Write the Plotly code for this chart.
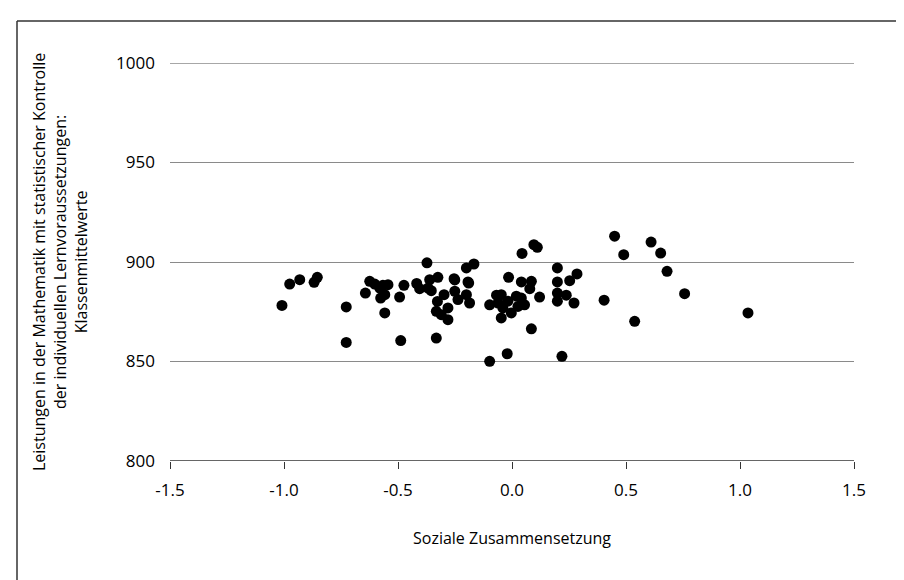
import plotly.graph_objects as go

# Soziale Zusammensetzung (x) and class mean math performance (y)
x_vals = [
    -1.009, -0.975, -0.931, -0.868, -0.854, -0.727, -0.727,
    -0.643, -0.624, -0.602, -0.580, -0.566, -0.544, -0.576, -0.558, -0.558,
    -0.493, -0.474, -0.488, -0.418, -0.405,
    -0.373, -0.361, -0.325, -0.368, -0.354, -0.254, -0.193, -0.298, -0.251,
    -0.237, -0.200, -0.186, -0.327, -0.332, -0.310, -0.281, -0.281, -0.332,
    -0.200, -0.167, -0.190, -0.251,
    -0.098, -0.068, -0.047, -0.098, -0.061, -0.040, -0.047, -0.015, -0.021,
    -0.018, 0.019, 0.041, 0.055, -0.003, 0.026, 0.044, 0.096, 0.111,
    0.041, 0.085, 0.078, 0.121, 0.085,
    0.199, 0.199, 0.253, 0.285, 0.199, 0.199, 0.238, 0.272, 0.219,
    0.404, 0.450, 0.490, 0.610, 0.652, 0.680, 0.757, 0.538, 1.035,
]
y_vals = [
    878.2, 888.9, 891.1, 889.8, 892.3, 877.4, 859.6,
    884.4, 890.3, 888.9, 886.9, 888.3, 888.6, 881.9, 883.6, 874.4,
    882.4, 888.3, 860.5, 889.2, 886.6,
    899.6, 891.1, 892.3, 886.9, 885.6, 891.6, 890.0, 883.6, 885.3,
    881.1, 883.6, 879.4, 880.2, 875.2, 873.5, 876.9, 871.0, 861.8,
    897.0, 899.0, 889.4, 891.0,
    850.1, 883.3, 883.6, 878.5, 879.4, 876.9, 871.9, 892.3, 853.9,
    880.3, 882.8, 881.9, 878.5, 874.4, 877.7, 904.3, 908.7, 907.4,
    890.0, 890.3, 886.6, 882.4, 866.4,
    897.0, 890.0, 890.6, 894.0, 884.4, 880.3, 883.3, 879.4, 852.6,
    880.8, 913.0, 903.7, 910.0, 904.5, 895.3, 884.1, 870.2, 874.4,
]

x_ticks = [-1.5, -1.0, -0.5, 0.0, 0.5, 1.0, 1.5]
x_tick_labels = ["-1.5", "-1.0", "-0.5", "0.0", "0.5", "1.0", "1.5"]
y_ticks = [800, 850, 900, 950, 1000]
y_tick_labels = ["800", "850", "900", "950", "1000"]

x_title = "Soziale Zusammensetzung"
y_title = ("Leistungen in der Mathematik mit statistischer Kontrolle<br>"
           "der individuellen Lernvoraussetzungen:<br>Klassenmittelwerte")

tick_font = dict(family="Open Sans, sans-serif", size=17, color="#000000")
title_font = dict(family="Open Sans, sans-serif", size=16, color="#000000")

fig = go.Figure()
fig.add_trace(go.Scatter(
    x=x_vals, y=y_vals, mode="markers",
    marker=dict(color="#000000", size=11, line=dict(width=0)),
    hoverinfo="x+y", showlegend=False,
))

L, R, T, B = 162, 58, 55, 127
W, H = 904, 580
pw, ph = W - L - R, H - T - B

fig.update_layout(
    width=W, height=H,
    margin=dict(l=L, r=R, t=T, b=B, pad=0),
    paper_bgcolor="#ffffff", plot_bgcolor="#ffffff",
    xaxis=dict(
        range=[-1.5, 1.5], tickvals=x_ticks, ticktext=x_tick_labels,
        showgrid=False, zeroline=False, showline=False,
        ticks="outside", ticklen=7, tickwidth=1.3, tickcolor="#333333",
        tickfont=tick_font, ticklabelstandoff=7,
    ),
    yaxis=dict(
        range=[800, 1000], tickvals=y_ticks, ticktext=y_tick_labels,
        showgrid=True, gridcolor="#8a8a8a", gridwidth=1.3,
        zeroline=False, showline=False, ticks="",
        tickfont=tick_font, ticklabelstandoff=14,
    ),
    shapes=[
        # top gridline at 1000 (range edge)
        dict(type="line", xref="paper", yref="y", x0=0, x1=1, y0=1000, y1=1000,
             line=dict(color="#8a8a8a", width=1.3)),
        # x axis baseline at 800
        dict(type="line", xref="paper", yref="y", x0=0, x1=1, y0=800, y1=800,
             line=dict(color="#333333", width=1.5)),
        # outer frame (top and left edges)
        dict(type="line", xref="paper", yref="paper",
             x0=(9 - L) / pw, x1=(W + 5 - L) / pw, y0=(H - B - 13) / ph, y1=(H - B - 13) / ph,
             line=dict(color="#333333", width=1.5)),
        dict(type="line", xref="paper", yref="paper",
             x0=(9 - L) / pw, x1=(9 - L) / pw, y0=(H - B - 13) / ph, y1=-(B + 5) / ph,
             line=dict(color="#333333", width=1.5)),
    ],
    annotations=[
        dict(text=x_title, xref="paper", yref="paper", x=0.5, y=-(530 - (H - B)) / ph,
             xanchor="center", yanchor="middle", showarrow=False, font=title_font),
        dict(text=y_title, xref="paper", yref="paper", x=(52 - L) / pw, y=0.5,
             xanchor="center", yanchor="middle", showarrow=False, textangle=-90,
             font=title_font),
    ],
)

fig.write_html("out.html")
